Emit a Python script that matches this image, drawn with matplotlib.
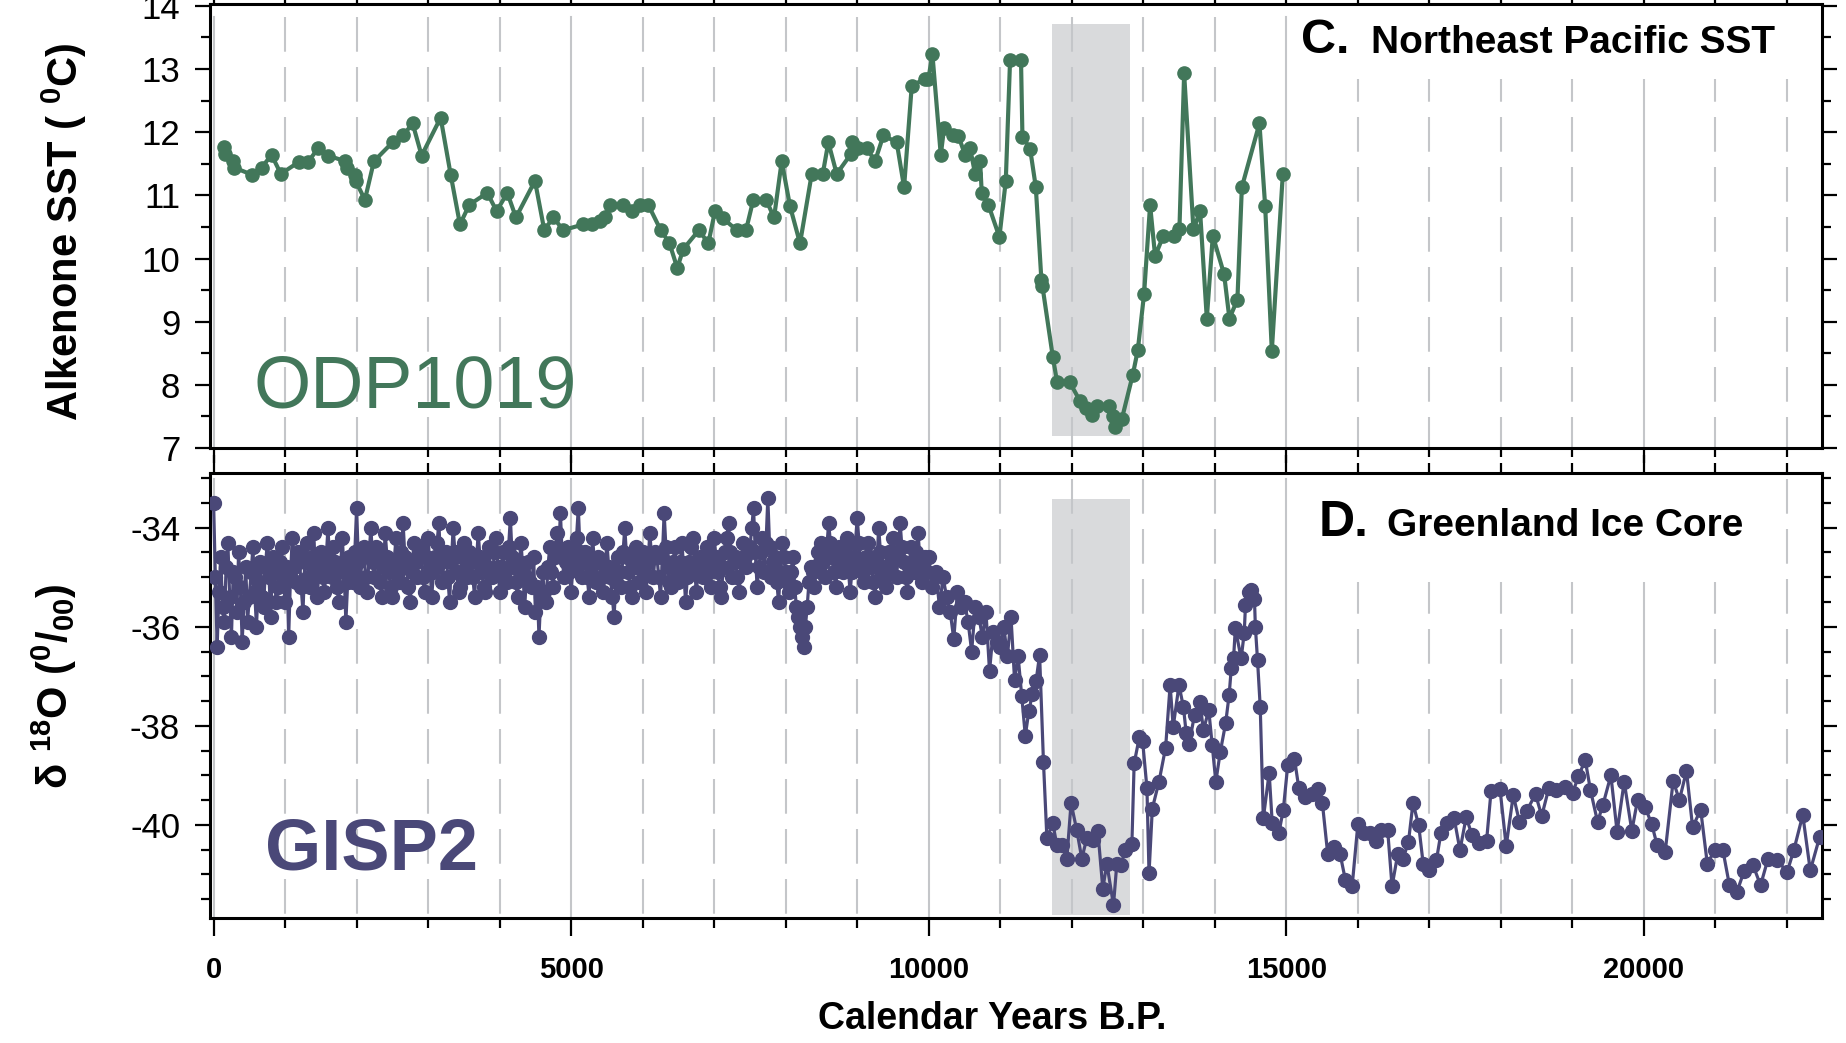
#Two stacked proxy records: ODP1019 SST and GISP2 d18O

import matplotlib
matplotlib.use('Agg')
from matplotlib import pyplot as plt
from matplotlib.patches import Rectangle
from matplotlib.ticker import MultipleLocator

plt.rcParams['font.family'] = ['Liberation Sans', 'DejaVu Sans']
plt.rcParams['mathtext.fontset'] = 'custom'
plt.rcParams['mathtext.rm'] = 'Liberation Sans:bold'
plt.rcParams['mathtext.bf'] = 'Liberation Sans:bold'
plt.rcParams['mathtext.default'] = 'bf'
plt.rcParams['lines.scale_dashes'] = False
plt.rcParams['axes.unicode_minus'] = False

# ODP1019 alkenone SST (years BP, deg C)

odp_age = [144, 158, 274, 288, 531, 671, 811, 941, 1193, 1323,
           1463, 1603, 1840, 1870, 1976, 1990, 2116, 2242, 2503, 2652,
           2783, 2909, 3175, 3315, 3445, 3575, 3827, 3958, 4107, 4228,
           4494, 4624, 4750, 4890, 5169, 5287, 5403, 5480, 5540, 5729,
           5846, 5962, 6078, 6252, 6372, 6484, 6568, 6787, 6918, 7011,
           7119, 7315, 7445, 7547, 7725, 7837, 7944, 8060, 8200, 8364,
           8518, 8596, 8713, 8909, 8923, 9015, 9133, 9249, 9366, 9552,
           9655, 9762, 9948, 9995, 10051, 10168, 10214, 10345, 10415, 10508,
           10578, 10648, 10718, 10741, 10834, 10988, 11077, 11137, 11290, 11310,
           11417, 11497, 11575, 11590, 11735, 11795, 11972, 12117, 12201, 12281,
           12359, 12527, 12582, 12606, 12700, 12853, 12923, 13011, 13095, 13165,
           13281, 13431, 13505, 13571, 13701, 13794, 13888, 13972, 14130, 14204,
           14316, 14378, 14624, 14704, 14797, 14951]
odp_sst = [11.76, 11.65, 11.54, 11.44, 11.33, 11.44, 11.64, 11.34, 11.53, 11.53,
           11.75, 11.63, 11.54, 11.44, 11.33, 11.22, 10.93, 11.54, 11.84, 11.95,
           12.14, 11.63, 12.23, 11.33, 10.54, 10.85, 11.04, 10.75, 11.04, 10.65,
           11.23, 10.45, 10.65, 10.45, 10.54, 10.54, 10.60, 10.65, 10.85, 10.85,
           10.75, 10.85, 10.85, 10.45, 10.25, 9.85, 10.15, 10.45, 10.24, 10.75,
           10.64, 10.45, 10.45, 10.93, 10.93, 10.65, 11.54, 10.83, 10.24, 11.34,
           11.34, 11.84, 11.34, 11.65, 11.84, 11.75, 11.75, 11.54, 11.95, 11.84,
           11.13, 12.73, 12.85, 12.84, 13.24, 11.64, 12.06, 11.95, 11.94, 11.64,
           11.75, 11.34, 11.54, 11.04, 10.85, 10.34, 11.23, 13.14, 13.14, 11.93,
           11.74, 11.13, 9.66, 9.56, 8.44, 8.04, 8.04, 7.74, 7.63, 7.53,
           7.66, 7.66, 7.50, 7.34, 7.46, 8.16, 8.55, 9.44, 10.85, 10.04,
           10.36, 10.36, 10.46, 12.93, 10.46, 10.75, 9.05, 10.36, 9.75, 9.05,
           9.35, 11.13, 12.14, 10.83, 8.54, 11.34]

# GISP2 d18O, Holocene part (years BP, per mil)

holo_age = [0, 25, 50, 75, 100, 125, 150, 175, 200, 225, 250, 275, 300, 325, 350, 375, 400, 425, 450, 475,
            500, 525, 550, 575, 600, 625, 650, 675, 700, 725, 750, 775, 800, 825, 850, 875, 900, 925, 950, 975,
            1000, 1025, 1050, 1075, 1100, 1125, 1150, 1175, 1200, 1225, 1250, 1275, 1300, 1325, 1350, 1375, 1400, 1425, 1450, 1475,
            1500, 1525, 1550, 1575, 1600, 1625, 1650, 1675, 1700, 1725, 1750, 1775, 1800, 1825, 1850, 1875, 1900, 1925, 1950, 1975,
            2000, 2025, 2050, 2075, 2100, 2125, 2150, 2175, 2200, 2225, 2250, 2275, 2300, 2325, 2350, 2375, 2400, 2425, 2450, 2475,
            2500, 2525, 2550, 2575, 2600, 2625, 2650, 2675, 2700, 2725, 2750, 2775, 2800, 2825, 2850, 2875, 2900, 2925, 2950, 2975,
            3000, 3025, 3050, 3075, 3100, 3125, 3150, 3175, 3200, 3225, 3250, 3275, 3300, 3325, 3350, 3375, 3400, 3425, 3450, 3475,
            3500, 3525, 3550, 3575, 3600, 3625, 3650, 3675, 3700, 3725, 3750, 3775, 3800, 3825, 3850, 3875, 3900, 3925, 3950, 3975,
            4000, 4025, 4050, 4075, 4100, 4125, 4150, 4175, 4200, 4225, 4250, 4275, 4300, 4325, 4350, 4375, 4400, 4425, 4450, 4475,
            4500, 4525, 4550, 4575, 4600, 4625, 4650, 4675, 4700, 4725, 4750, 4775, 4800, 4825, 4850, 4875, 4900, 4925, 4950, 4975,
            5000, 5025, 5050, 5075, 5100, 5125, 5150, 5175, 5200, 5225, 5250, 5275, 5300, 5325, 5350, 5375, 5400, 5425, 5450, 5475,
            5500, 5525, 5550, 5575, 5600, 5625, 5650, 5675, 5700, 5725, 5750, 5775, 5800, 5825, 5850, 5875, 5900, 5925, 5950, 5975,
            6000, 6025, 6050, 6075, 6100, 6125, 6150, 6175, 6200, 6225, 6250, 6275, 6300, 6325, 6350, 6375, 6400, 6425, 6450, 6475,
            6500, 6525, 6550, 6575, 6600, 6625, 6650, 6675, 6700, 6725, 6750, 6775, 6800, 6825, 6850, 6875, 6900, 6925, 6950, 6975,
            7000, 7025, 7050, 7075, 7100, 7125, 7150, 7175, 7200, 7225, 7250, 7275, 7300, 7325, 7350, 7375, 7400, 7425, 7450, 7475,
            7500, 7525, 7550, 7575, 7600, 7625, 7650, 7675, 7700, 7725, 7750, 7775, 7800, 7825, 7850, 7875, 7900, 7925, 7950, 7975,
            8000, 8025, 8050, 8075, 8100, 8125, 8150, 8175, 8200, 8225, 8250, 8275, 8300, 8325, 8350, 8375, 8400, 8425, 8450, 8475,
            8500, 8525, 8550, 8575, 8600, 8625, 8650, 8675, 8700, 8725, 8750, 8775, 8800, 8825, 8850, 8875, 8900, 8925, 8950, 8975,
            9000, 9025, 9050, 9075, 9100, 9125, 9150, 9175, 9200, 9225, 9250, 9275, 9300, 9325, 9350, 9375, 9400, 9425, 9450, 9475,
            9500, 9525, 9550, 9575, 9600, 9625, 9650, 9675, 9700, 9725, 9750, 9775, 9800, 9825, 9850, 9875, 9900, 9925, 9950, 9975]
holo_d18o = [-33.5, -35.0, -36.4, -35.3, -34.6, -35.6, -35.9, -34.8, -34.3, -35.4, -36.2, -34.9, -35.0, -35.7, -34.5, -35.2, -36.3, -35.5, -34.8, -35.9,
             -35.4, -34.9, -34.4, -35.3, -36.0, -35.1, -34.7, -35.4, -35.6, -34.8, -34.3, -35.0, -35.8, -34.6, -34.9, -35.5, -35.2, -34.7, -34.4, -35.0,
             -35.5, -34.8, -36.2, -35.0, -34.2, -34.8, -35.1, -34.5, -34.6, -35.2, -35.7, -34.7, -34.3, -35.0, -35.2, -34.6, -34.1, -34.9, -35.4, -34.8,
             -34.5, -35.0, -35.3, -34.6, -34.0, -34.8, -35.0, -34.4, -34.7, -35.2, -35.5, -34.8, -34.2, -34.9, -35.9, -35.1, -34.6, -34.9, -35.1, -34.5,
             -33.6, -34.7, -35.2, -34.6, -34.4, -35.0, -35.3, -34.5, -34.0, -34.7, -35.0, -34.4, -34.6, -35.1, -35.4, -34.8, -34.1, -34.6, -34.9, -35.2,
             -35.4, -34.7, -34.2, -34.9, -35.1, -34.5, -33.9, -34.6, -34.8, -35.2, -35.5, -34.9, -34.3, -34.7, -35.0, -34.4, -34.5, -35.0, -35.3, -34.6,
             -34.2, -34.8, -35.4, -34.9, -34.6, -34.3, -33.9, -34.7, -35.1, -34.6, -34.5, -35.0, -35.5, -34.7, -34.0, -34.5, -34.9, -35.3, -35.2, -34.6,
             -34.3, -34.8, -35.0, -34.5, -34.6, -35.0, -35.4, -34.7, -34.1, -34.6, -34.9, -35.2, -35.3, -34.8, -34.4, -34.9, -35.0, -34.5, -34.2, -34.8,
             -35.3, -34.8, -34.5, -34.9, -35.1, -34.4, -33.8, -34.6, -34.8, -35.1, -35.4, -34.7, -34.3, -34.9, -35.6, -35.0, -34.7, -35.1, -35.2, -34.6,
             -35.7, -35.2, -36.2, -35.4, -34.9, -35.3, -35.5, -34.8, -34.4, -34.9, -35.2, -34.6, -34.1, -34.5, -33.7, -34.6, -35.0, -34.7, -34.4, -34.9,
             -35.3, -34.8, -34.6, -34.2, -33.6, -34.5, -35.0, -34.7, -34.5, -35.0, -35.4, -34.8, -34.2, -34.7, -35.1, -34.6, -34.7, -35.0, -35.3, -34.8,
             -34.3, -34.8, -35.0, -35.4, -35.8, -35.1, -34.6, -34.9, -35.2, -34.5, -34.0, -34.6, -34.9, -35.2, -35.4, -34.8, -34.4, -34.8, -35.1, -34.7,
             -34.5, -34.9, -35.3, -34.7, -34.1, -34.6, -35.0, -34.5, -34.6, -35.0, -35.4, -34.6, -33.7, -34.4, -34.8, -35.1, -35.2, -34.7, -34.4, -34.9,
             -35.1, -34.7, -34.3, -34.9, -35.5, -35.0, -34.7, -34.4, -34.2, -34.8, -35.3, -34.9, -34.6, -34.8, -35.0, -34.6, -34.4, -34.9, -35.2, -34.7,
             -34.2, -34.6, -34.9, -35.2, -35.4, -34.8, -34.5, -34.2, -33.9, -34.5, -35.0, -34.7, -34.6, -35.0, -35.3, -34.7, -34.3, -34.6, -34.8, -34.5,
             -34.4, -34.0, -33.6, -34.5, -35.2, -34.8, -34.5, -34.2, -34.9, -34.3, -33.4, -34.4, -35.0, -34.7, -34.6, -35.1, -35.5, -34.9, -34.3, -34.6,
             -34.9, -35.1, -35.3, -34.9, -34.6, -35.2, -35.6, -35.8, -36.0, -36.2, -36.4, -36.0, -35.6, -35.1, -34.8, -34.9, -35.2, -34.8, -34.5, -34.7,
             -34.3, -34.7, -35.0, -34.4, -33.9, -34.3, -34.6, -34.9, -35.2, -34.7, -34.4, -34.7, -34.9, -34.5, -34.2, -34.8, -35.3, -34.9, -34.6, -34.3,
             -33.8, -34.3, -34.7, -34.9, -35.1, -34.6, -34.3, -34.6, -34.8, -35.1, -35.4, -34.7, -34.0, -34.5, -34.9, -35.0, -35.2, -34.8, -34.5, -34.7,
             -34.2, -34.6, -35.0, -34.5, -33.9, -34.4, -34.7, -35.0, -35.3, -34.8, -34.4, -34.7, -34.9, -34.5, -34.1, -34.6, -35.1, -34.8, -34.6, -34.9]

# GISP2 d18O, deglacial and glacial part

glac_age = [10000, 10050, 10100, 10150, 10200, 10250, 10300, 10350, 10400, 10450,
            10500, 10550, 10600, 10650, 10700, 10750, 10800, 10850, 10900, 10950,
            11000, 11050, 11100, 11150, 11200, 11250, 11300, 11350, 11400, 11450,
            11500, 11550, 11604, 11652, 11735, 11791, 11860, 11931, 11990, 12070,
            12140, 12210, 12290, 12364, 12434, 12490, 12583, 12630, 12690, 12747,
            12840, 12872, 12946, 12990, 13051, 13080, 13126, 13219, 13312, 13375,
            13418, 13499, 13561, 13600, 13641, 13716, 13790, 13841, 13915, 13964,
            14014, 14076, 14151, 14200, 14230, 14262, 14287, 14368, 14411, 14429,
            14473, 14510, 14554, 14567, 14597, 14635, 14678, 14760, 14803, 14895,
            14958, 15020, 15113, 15175, 15267, 15361, 15442, 15504, 15578, 15671,
            15752, 15827, 15920, 16000, 16087, 16168, 16249, 16323, 16417, 16478,
            16559, 16634, 16708, 16771, 16851, 16913, 16993, 17099, 17161, 17242,
            17347, 17428, 17515, 17596, 17690, 17800, 17863, 17988, 18074, 18173,
            18260, 18360, 18484, 18571, 18670, 18775, 18899, 19004, 19085, 19179,
            19253, 19352, 19426, 19538, 19625, 19724, 19831, 19912, 20017, 20110,
            20185, 20297, 20409, 20496, 20595, 20681, 20793, 20886, 20992, 21104,
            21196, 21302, 21401, 21525, 21631, 21736, 21860, 22003, 22096, 22221,
            22326, 22456]
glac_d18o = [-34.6, -35.2, -34.9, -35.6, -35.0, -35.4, -35.7, -36.25, -35.3, -35.6,
             -35.5, -35.9, -36.5, -35.6, -35.8, -36.2, -35.7, -36.9, -36.1, -36.3,
             -36.4, -36.0, -36.6, -35.8, -37.08, -36.6, -37.4, -38.2, -37.7, -37.35,
             -37.1, -36.57, -38.73, -40.27, -39.97, -40.41, -40.4, -40.68, -39.56, -40.11,
             -40.68, -40.27, -40.3, -40.12, -41.29, -40.78, -41.62, -40.78, -40.8, -40.51,
             -40.39, -38.76, -38.22, -38.3, -39.26, -40.98, -39.67, -39.13, -38.44, -37.18,
             -38.02, -37.18, -37.62, -38.15, -38.36, -37.78, -37.51, -38.09, -37.68, -38.39,
             -39.13, -38.53, -37.95, -37.38, -36.84, -36.64, -36.03, -36.64, -36.13, -35.56,
             -35.29, -35.25, -35.43, -36.0, -36.67, -37.62, -39.87, -38.95, -39.97, -40.17,
             -39.69, -38.79, -38.66, -39.26, -39.43, -39.37, -39.28, -39.56, -40.58, -40.45,
             -40.59, -41.12, -41.24, -39.99, -40.17, -40.17, -40.32, -40.11, -40.11, -41.24,
             -40.58, -40.68, -40.34, -39.56, -40.01, -40.78, -40.92, -40.71, -40.17, -39.96,
             -39.87, -40.51, -39.84, -40.21, -40.36, -40.32, -39.31, -39.28, -40.43, -39.40,
             -39.94, -39.72, -39.38, -39.82, -39.26, -39.30, -39.24, -39.35, -39.02, -38.69,
             -39.30, -39.94, -39.60, -39.0, -40.14, -39.13, -40.12, -39.49, -39.64, -39.99,
             -40.41, -40.55, -39.11, -39.50, -38.91, -40.05, -39.69, -40.78, -40.51, -40.51,
             -41.22, -41.35, -40.93, -40.81, -41.22, -40.68, -40.71, -40.95, -40.51, -39.80,
             -40.92, -40.25]

# Younger Dryas band and axis labels

yd_start, yd_end = 11730, 12820
xtick_vals = [0, 5000, 10000, 15000, 20000]
xtick_text = ['0', '5000', '10000', '15000', '20000']
sst_ticks = [7, 8, 9, 10, 11, 12, 13, 14]
d18o_ticks = [-40, -38, -36, -34]

green = '#42775a'
purple = '#4a4878'
gridc = '#c4c6c9'

W, H = 1846, 1043
fig = plt.figure(figsize=(W / 100, H / 100), dpi=100)
ax1 = fig.add_axes([210 / W, 1 - 448 / H, 1612 / W, 444 / H])
ax2 = fig.add_axes([210 / W, 1 - 918 / H, 1612 / W, 445.3 / H])


def grid_lines(ax, top):
    for yr in range(0, 23000, 1000):
        if yr % 5000 == 0:
            ax.plot([yr, yr], [top, 0], transform=ax.get_xaxis_transform(),
                    color=gridc, lw=1.5, zorder=1)
        else:
            ax.plot([yr, yr], [top, 0], transform=ax.get_xaxis_transform(),
                    color=gridc, lw=1.5, dashes=(25, 11), zorder=1)


def style_axis(ax):
    ax.set_xlim(-50, 22490)
    ax.set_xticks(xtick_vals)
    ax.xaxis.set_minor_locator(MultipleLocator(1000))
    ax.yaxis.set_minor_locator(MultipleLocator(0.5))
    ax.tick_params(which='both', direction='out', width=1.6, left=True, right=True,
                   top=True, bottom=True, labelright=False, labeltop=False)
    ax.tick_params(which='major', length=10.5)
    ax.tick_params(which='minor', length=6.5)
    ax.tick_params(axis='y', which='major', labelsize=25, pad=11)
    for s in ax.spines.values():
        s.set_linewidth(2.2)
    ax.set_facecolor('white')


# Top panel: SST

grid_lines(ax1, 0.97)
ax1.add_patch(Rectangle((yd_start, 7.19), yd_end - yd_start, 13.71 - 7.19,
                        facecolor='#d9dadc', edgecolor='none', zorder=0.5))
ax1.add_patch(Rectangle((0.673, 0.832), 0.313, 0.168, transform=ax1.transAxes,
                        facecolor='white', edgecolor='none', zorder=1.5))
ax1.plot(odp_age, odp_sst, color=green, lw=3.0, marker='o', ms=9.5, zorder=3)
ax1.set_ylim(7, 14.03)
ax1.set_yticks(sst_ticks)
style_axis(ax1)
ax1.tick_params(axis='x', labelbottom=False)

# Bottom panel: d18O

grid_lines(ax2, 0.985)
ax2.add_patch(Rectangle((yd_start, -41.81), yd_end - yd_start, 41.81 - 33.42,
                        facecolor='#d9dadc', edgecolor='none', zorder=0.5))
ax2.add_patch(Rectangle((0.673, 0.755), 0.3, 0.245, transform=ax2.transAxes,
                        facecolor='white', edgecolor='none', zorder=1.5))
ax2.plot(holo_age + glac_age, holo_d18o + glac_d18o, color=purple, lw=2.3,
         marker='o', ms=10, zorder=3)
ax2.set_ylim(-41.88, -32.89)
ax2.set_yticks(d18o_ticks)
style_axis(ax2)
ax2.set_xticklabels(xtick_text, fontsize=21, fontweight='bold')
ax2.tick_params(axis='x', which='major', length=13, pad=14)
ax2.tick_params(axis='x', which='minor', length=7)

# Panel titles and series names

fig.text(1301 / W, 1 - 53 / H, 'C.', fontsize=35, fontweight='bold', ha='left', va='baseline')
fig.text(1371 / W, 1 - 53 / H, 'Northeast Pacific SST', fontsize=28, fontweight='bold',
         ha='left', va='baseline')
fig.text(1319 / W, 1 - 536 / H, 'D.', fontsize=36, fontweight='bold', ha='left', va='baseline')
fig.text(1387 / W, 1 - 536 / H, 'Greenland Ice Core', fontsize=28, fontweight='bold',
         ha='left', va='baseline')
fig.text(415 / W, 1 - 388 / H, 'ODP1019', fontsize=53, color=green, ha='center', va='center')
fig.text(371 / W, 1 - 850 / H, 'GISP2', fontsize=52, color=purple, fontweight='bold',
         ha='center', va='center')

# Axis titles

fig.text(64 / W, 1 - 232 / H, r'Alkenone SST ( $^0$C)', fontsize=30, fontweight='bold',
         rotation=90, ha='center', va='center')
fig.text(54 / W, 1 - 686 / H, r'δ $^{18}$O ($^0$/$_{00}$)', fontsize=30, fontweight='bold',
         rotation=90, ha='center', va='center')
fig.text(992 / W, 1 - 1019 / H, 'Calendar Years B.P.', fontsize=27, fontweight='bold',
         ha='center', va='center')

fig.savefig('out.png', dpi=100)
